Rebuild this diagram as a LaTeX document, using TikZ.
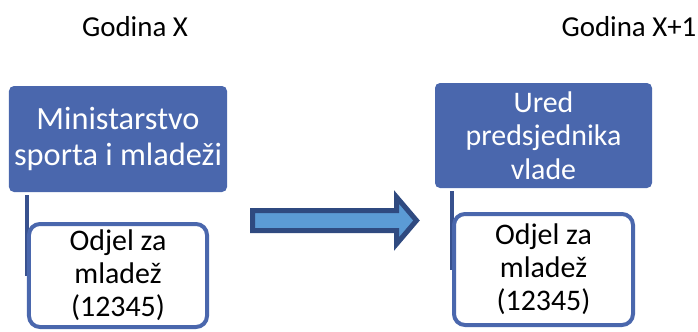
\documentclass[tikz,border=0pt]{standalone}
\usepackage{fontspec}
\setmainfont{Carlito}
\usetikzlibrary{backgrounds}
\definecolor{unitblue}{RGB}{74,103,173}
\definecolor{linkblue}{RGB}{56,81,142}
\definecolor{arrowfill}{RGB}{91,155,213}
\definecolor{arrowedge}{RGB}{47,74,128}
\tikzset{
  year/.style={font=\fontsize{29}{32}\selectfont, text=black, inner sep=0pt},
  parentbox/.style={draw=none, fill=unitblue, rounded corners=5bp, text=white,
    align=center, inner sep=0pt},
  childbox/.style={draw=unitblue, line width=4bp, fill=white, rounded corners=11bp,
    text=black, align=center, inner sep=0pt,
    font=\fontsize{30}{33}\selectfont},
  link/.style={draw=linkblue, line width=4.5bp, shorten <=3bp},
  blockarrow/.style={draw=arrowedge, fill=arrowfill, line width=5bp, line join=miter}
}
\begin{document}
\begin{tikzpicture}[x=1bp,y=1bp]
\useasboundingbox (0,0) rectangle (698,331);

% year headings
\node[year] (yx)  at (135,304) {Godina X};
\node[year] (yx1) at (629,304) {Godina X+1};

% year X
\node[parentbox, minimum width=218bp, minimum height=106bp,
      font=\fontsize{32.5}{37}\selectfont] (ministry) at (118,192)
      {Ministarstvo\\sporta i mladeži};
\node[childbox, minimum width=178bp, minimum height=103bp] (deptx) at (118,55.5)
      {Odjel za\\mladež\\(12345)};

% year X+1
\node[parentbox, minimum width=217bp, minimum height=105bp,
      font=\fontsize{30}{33.5}\selectfont] (office) at (543.5,195.5)
      {Ured\\predsjednika\\vlade};
\node[childbox, minimum width=179bp, minimum height=111bp] (deptx1) at (543.5,61.5)
      {Odjel za\\mladež\\(12345)};

% hierarchy connectors, behind the child boxes
\begin{scope}[on background layer]
  \draw[link] (ministry.south -| deptx.west) -- (deptx.west);
  \draw[link] (office.south -| deptx1.west) -- (deptx1.west);
\end{scope}

% transfer arrow between the years
\draw[blockarrow] (252.5,100.5) -- (396.5,100.5) -- (396.5,87) -- (416.5,110.5)
  -- (396.5,134) -- (396.5,120.5) -- (252.5,120.5) -- cycle;
\end{tikzpicture}
\end{document}
